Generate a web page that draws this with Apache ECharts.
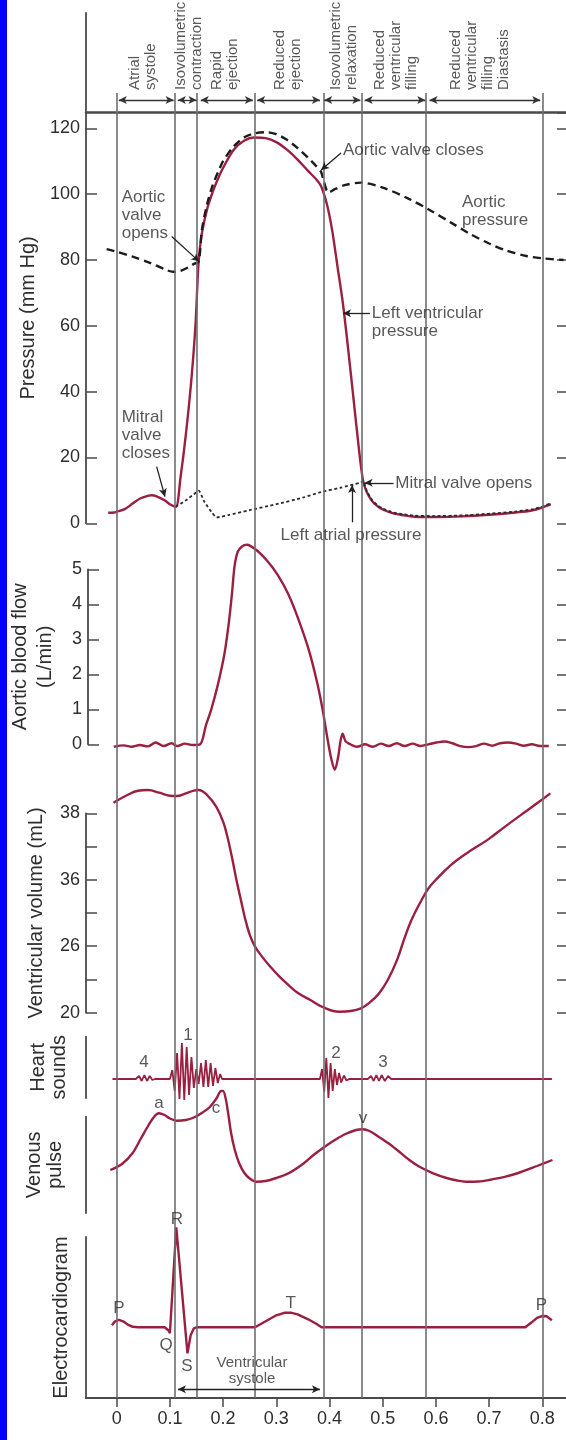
<!DOCTYPE html>
<html><head><meta charset="utf-8">
<script src="https://cdn.jsdelivr.net/npm/echarts@6/dist/echarts.min.js"></script>
<style>html,body{margin:0;padding:0;background:#fff}#c{width:566px;height:1440px}</style>
</head><body><div id="c"></div>
<script>
// ---------- DATA (time in s) ----------
const xTicks = [0, 0.1, 0.2, 0.3, 0.4, 0.5, 0.6, 0.7, 0.8];
const xTickLabels = ['0', '0.1', '0.2', '0.3', '0.4', '0.5', '0.6', '0.7', '0.8'];
const phaseBoundaries = [0, 0.111, 0.154, 0.26, 0.386, 0.462, 0.584, 0.8];
const phaseNames = ['Atrial\nsystole', 'Isovolumetric\ncontraction', 'Rapid\nejection', 'Reduced\nejection',
  'Isovolumetric\nrelaxation', 'Reduced\nventricular\nfilling', 'Reduced\nventricular\nfilling\nDiastasis'];
const phaseLabelTimes = [0.0487, 0.135, 0.203, 0.322, 0.427, 0.524, 0.683];

const volumeTickLabels = ['20', '', '26', '', '36', '', '38'];

// Left ventricular pressure (mm Hg)
const lvPressure = [[-0.016,3.2],[-0.005,3.3],[0,3.5],[0.015,4.3],[0.03,6.0],[0.045,7.6],[0.06,8.4],[0.066,8.5],[0.075,8.2],
  [0.09,7.0],[0.1,5.8],[0.111,5.0],[0.12,14],[0.13,27],[0.14,43],[0.148,60],[0.154,79.5],[0.16,88],[0.17,95.5],[0.18,100.5],
  [0.19,104.5],[0.2,108],[0.22,113.5],[0.24,116.3],[0.258,117.2],[0.28,117],[0.3,115.8],[0.32,113.5],[0.34,110.5],[0.36,107],
  [0.375,104.5],[0.384,102.5],[0.395,97],[0.405,89],[0.415,78],[0.425,67],[0.435,53],[0.445,38],[0.455,23],[0.463,13],
  [0.47,9.5],[0.48,6.8],[0.49,5.2],[0.5,4.2],[0.52,3.0],[0.54,2.4],[0.56,2.0],[0.6,1.9],[0.65,2.1],[0.7,2.6],[0.75,3.3],
  [0.78,3.9],[0.8,4.8],[0.816,5.8]];
// Aortic pressure (mm Hg)
const aorticPressure = [[-0.019,83.3],[0,82.5],[0.03,81],[0.06,79.3],[0.09,77.2],[0.106,76.4],[0.12,76.7],[0.135,77.8],
  [0.145,78.8],[0.154,79.5],[0.16,89],[0.17,97],[0.18,102.5],[0.19,106.5],[0.2,110],[0.22,114.5],[0.24,117.3],[0.26,118.5],
  [0.283,118.8],[0.3,118.2],[0.32,116.5],[0.34,114],[0.36,111],[0.375,108.5],[0.384,106.8],[0.39,103.5],[0.398,100.5],
  [0.41,101.5],[0.43,102.8],[0.459,103.5],[0.5,102],[0.55,98.5],[0.588,95.2],[0.63,91.2],[0.663,88],[0.7,85],[0.73,83],
  [0.77,81.2],[0.8,80.5],[0.84,80]];
// Left atrial pressure (mm Hg)
const atrialPressure = [[0.111,5.0],[0.13,7.0],[0.145,8.8],[0.154,9.9],[0.165,6.5],[0.178,3.5],[0.188,1.8],[0.21,2.5],
  [0.25,4.0],[0.3,5.8],[0.35,7.8],[0.384,9.5],[0.42,10.8],[0.459,12.4],[0.463,12.9],[0.47,9.8],[0.48,7.1],[0.49,5.5],
  [0.5,4.5],[0.52,3.3],[0.54,2.7],[0.56,2.3],[0.6,2.2],[0.65,2.4],[0.7,2.9],[0.75,3.6],[0.78,4.2],[0.8,5.1],[0.816,6.1]];
// Aortic blood flow (L/min)
const aorticFlow = [[-0.009,-0.07],[0.01,-0.03],[0.025,-0.07],[0.04,-0.02],[0.055,-0.06],[0.07,0.05],[0.085,-0.05],
  [0.1,0.03],[0.111,-0.05],[0.125,0.02],[0.14,-0.02],[0.154,0],[0.165,0.55],[0.175,1.0],[0.188,1.74],[0.2,2.6],
  [0.208,3.46],[0.214,4.3],[0.219,5.1],[0.225,5.5],[0.233,5.65],[0.242,5.7],[0.26,5.55],[0.28,5.25],[0.3,4.85],
  [0.32,4.3],[0.34,3.55],[0.36,2.65],[0.375,1.75],[0.385,1.0],[0.395,0.1],[0.402,-0.45],[0.408,-0.73],[0.414,-0.4],
  [0.419,0.1],[0.423,0.3],[0.428,0.1],[0.435,0.02],[0.45,-0.07],[0.465,0],[0.48,-0.07],[0.495,0.02],[0.51,-0.05],
  [0.525,0.03],[0.54,-0.05],[0.555,0.02],[0.57,-0.05],[0.585,0],[0.6,0.05],[0.615,0.08],[0.63,0.03],[0.645,-0.05],
  [0.66,-0.08],[0.675,-0.05],[0.69,0.02],[0.705,-0.04],[0.72,0.03],[0.735,0.05],[0.75,0.02],[0.765,-0.04],[0.78,0],
  [0.795,-0.05],[0.812,-0.05]];
// Ventricular volume, in axis tick steps (0 = "20", 2 = "26", 4 = "36", 6 = "38")
const ventricularVolume = [[-0.006,6.32],[0.02,6.55],[0.04,6.68],[0.059,6.7],[0.08,6.62],[0.1,6.53],[0.113,6.52],
  [0.13,6.6],[0.145,6.68],[0.154,6.7],[0.17,6.55],[0.187,6.2],[0.2,5.75],[0.208,5.3],[0.217,4.65],[0.225,4.0],
  [0.234,3.35],[0.242,2.79],[0.25,2.35],[0.26,1.99],[0.275,1.65],[0.289,1.38],[0.305,1.1],[0.323,0.83],[0.34,0.6],
  [0.364,0.38],[0.39,0.15],[0.418,0.03],[0.44,0.05],[0.459,0.13],[0.475,0.3],[0.493,0.58],[0.51,1.0],[0.527,1.59],
  [0.54,2.2],[0.554,2.79],[0.57,3.3],[0.585,3.72],[0.6,4.0],[0.628,4.44],[0.66,4.82],[0.697,5.2],[0.73,5.6],
  [0.764,6.0],[0.79,6.3],[0.815,6.6]];
// Heart sounds (relative amplitude)
const heartSounds = [[-0.008,0],[0.036,0],[0.042,0.3],[0.047,-0.2],[0.052,0.4],[0.057,-0.2],[0.062,0.3],[0.067,-0.1],[0.072,0],
  [0.1,0],[0.1045,0.9],[0.109,-1.2],[0.1135,2.6],[0.118,-2.0],[0.1225,3.6],[0.127,-2.1],[0.1315,3.2],[0.136,-1.6],
  [0.1405,2.2],[0.145,-0.9],[0.1495,1.0],[0.154,-0.5],[0.1585,1.6],[0.163,-0.8],[0.1675,1.9],[0.172,-0.8],[0.1765,1.6],
  [0.181,-0.7],[0.1855,1.1],[0.19,-0.4],[0.1945,0.5],[0.198,0],
  [0.382,0],[0.386,1.0],[0.39,-1.3],[0.394,2.1],[0.398,-1.9],[0.402,1.6],[0.406,-1.2],[0.41,1.0],[0.414,-0.6],
  [0.418,0.6],[0.422,-0.35],[0.427,0.35],[0.432,-0.15],[0.437,0],
  [0.472,0],[0.478,0.3],[0.483,-0.2],[0.488,0.4],[0.493,-0.2],[0.498,0.4],[0.504,-0.2],[0.51,0.3],[0.516,0],[0.818,0]];
// Venous pulse (relative)
const venousPulse = [[-0.012,4.3],[0.01,4.9],[0.03,6.0],[0.045,7.4],[0.06,8.8],[0.07,9.6],[0.079,9.97],[0.09,9.8],
  [0.1,9.45],[0.113,9.23],[0.13,9.3],[0.145,9.55],[0.16,10.0],[0.175,10.6],[0.188,11.5],[0.196,12.2],[0.2,12.2],
  [0.205,11.4],[0.21,9.8],[0.215,8.0],[0.222,6.3],[0.23,5.0],[0.24,4.0],[0.25,3.45],[0.262,3.13],[0.28,3.2],[0.3,3.5],
  [0.323,3.97],[0.35,4.9],[0.37,5.8],[0.391,6.63],[0.41,7.3],[0.43,7.9],[0.45,8.3],[0.463,8.37],[0.475,8.2],[0.49,7.7],
  [0.51,7.0],[0.527,6.3],[0.55,5.3],[0.57,4.6],[0.595,3.97],[0.62,3.5],[0.64,3.25],[0.656,3.13],[0.68,3.15],[0.7,3.3],
  [0.731,3.63],[0.76,4.1],[0.79,4.7],[0.819,5.3]];
// Electrocardiogram (mV)
const ecg = [[-0.009,0.02],[-0.003,0.06],[0.004,0.075],[0.012,0.06],[0.02,0.03],[0.03,0.005],[0.04,0],[0.09,0],
  [0.097,-0.03],[0.1,-0.06],[0.112,1.0],[0.133,-0.26],[0.139,-0.08],[0.145,-0.01],[0.15,0],[0.26,0],[0.28,0.06],
  [0.3,0.12],[0.315,0.145],[0.327,0.146],[0.34,0.13],[0.36,0.08],[0.375,0.035],[0.385,0],[0.768,0],[0.78,0.05],
  [0.79,0.095],[0.8,0.113],[0.808,0.11],[0.818,0.07]];

// ---------- ANNOTATION PLACEMENT ----------
const pressureNotes = [
  {text:'Aortic valve closes', t:0.4254, v:113.4, align:'left'},
  {text:'Aortic\nvalve\nopens', t:0.0094, v:93.7, align:'left'},
  {text:'Aortic\npressure', t:0.649, v:94.9, align:'left'},
  {text:'Left ventricular\npressure', t:0.4795, v:61.0, align:'left'},
  {text:'Mitral\nvalve\ncloses', t:0.0094, v:26.8, align:'left'},
  {text:'Mitral valve opens', t:0.5237, v:12.3, align:'left'},
  {text:'Left atrial pressure', t:0.4404, v:-3.55, align:'center'}
];
const pressureArrows = [
  [[0.4216,112.5],[0.3842,107.3]],
  [[0.1034,87.1],[0.1553,79.5]],
  [[0.476,63.8],[0.4254,63.8]],
  [[0.0751,17.2],[0.0907,8.1]],
  [[0.5203,12.3],[0.466,12.3]],
  [[0.4423,0.3],[0.4423,11.6]]
];
const heartNotes = [{text:'4',t:0.0513,v:1.7},{text:'1',t:0.134,v:4.4},{text:'2',t:0.412,v:2.6},{text:'3',t:0.5006,v:1.7}];
const venousNotes = [{text:'a',t:0.0795,v:11.0},{text:'c',t:0.1866,v:10.5},{text:'v',t:0.463,v:9.5}];
const ecgNotes = [{text:'P',t:0.0043,v:0.19},{text:'R',t:0.1133,v:1.08},{text:'Q',t:0.0927,v:-0.177},
  {text:'S',t:0.1321,v:-0.394},{text:'T',t:0.3269,v:0.24},{text:'P',t:0.7985,v:0.223},
  {text:'Ventricular\nsystole',t:0.2543,v:-0.44,size:15,lh:16}];

// ---------- LAYOUT ----------
const X_MIN = -0.0577, X_MAX = 0.8445;
const FONT = '"Liberation Sans", Arial, Helvetica, sans-serif';
const AX = '#4a4a4a', TXT = '#2e2e2e', RED = '#9a1f40', GRAYLINE = '#6e6e6e';
const gridBoxes = [
  {top:13, height:99.5},     // 0 header
  {top:112.5, height:410.8}, // 1 pressure
  {top:569.3, height:175},   // 2 flow
  {top:813.3, height:199.4}, // 3 volume
  {top:1036.7, height:61.3}, // 4 heart sounds
  {top:1116.7, height:96.3}, // 5 venous
  {top:1237, height:161},    // 6 ecg
  {top:93, height:1305}      // 7 phase lines overlay
];
const grid = gridBoxes.map(g => ({left:86, width:480, top:g.top, height:g.height}));

const xAxis = gridBoxes.map((g, i) => ({
  gridIndex:i, type:'value', min:X_MIN, max:X_MAX,
  show: i === 0 || i === 6,
  axisLine:{show:true, onZero:false, lineStyle:{color:AX, width: i === 0 ? 2.5 : 1.8}},
  axisTick:{show: i === 6, customValues:xTicks, length:9, lineStyle:{color:AX, width:1.5}},
  axisLabel:{show: i === 6, customValues:xTicks, formatter: v => xTickLabels[Math.round(v * 10)],
    fontSize:18, color:TXT, margin:12, fontFamily:FONT},
  splitLine:{show:false}
}));

function leftAxis(i, o) {
  return Object.assign({
    gridIndex:i, type:'value', position:'left',
    axisLine:{show:true, onZero:false, lineStyle:{color:AX, width:1.8}},
    axisTick:{show:false, inside:true, length:11, lineStyle:{color:AX, width:1.5}},
    axisLabel:{show:false, fontSize:18, color:TXT, margin:6, fontFamily:FONT},
    splitLine:{show:false},
    nameLocation:'middle', nameRotate:90,
    nameTextStyle:{fontSize:20, color:TXT, fontFamily:FONT, lineHeight:21}
  }, o);
}
function rightAxis(i, o) {
  return Object.assign({
    gridIndex:i, type:'value', position:'right',
    axisLine:{show:false, onZero:false},
    axisTick:{show:true, inside:true, length:9, lineStyle:{color:AX, width:1.5}},
    axisLabel:{show:false}, splitLine:{show:false}
  }, o);
}
const yAxis = [
  leftAxis(0, {min:0, max:99.5}),                                            // 0
  leftAxis(1, {min:0, max:124.8, interval:20, name:'Pressure (mm Hg)', nameGap:45,
    axisTick:{show:true, inside:true, length:11, lineStyle:{color:AX, width:1.5}},
    axisLabel:{show:true, fontSize:18, color:TXT, margin:6, fontFamily:FONT}}), // 1
  leftAxis(2, {min:0, max:5, interval:1, name:'Aortic blood flow\n(L/min)', nameGap:30,
    nameTextStyle:{fontSize:20, color:TXT, fontFamily:FONT, lineHeight:25},
    axisTick:{show:true, inside:true, length:11, lineStyle:{color:AX, width:1.5}},
    axisLabel:{show:true, fontSize:18, color:TXT, margin:6, fontFamily:FONT}}), // 2
  leftAxis(3, {min:0, max:6, interval:1, name:'Ventricular volume (mL)', nameGap:39,
    axisTick:{show:true, inside:true, length:11, lineStyle:{color:AX, width:1.5}},
    axisLabel:{show:true, fontSize:18, color:TXT, margin:6, fontFamily:FONT,
      formatter: v => volumeTickLabels[Math.round(v)]}}),                    // 3
  leftAxis(4, {min:-1.9, max:4.23, name:'Heart\nsounds', nameGap:16}),       // 4
  leftAxis(5, {min:0, max:9.63, name:'Venous\npulse', nameGap:20}),          // 5
  leftAxis(6, {min:-0.707, max:0.903, name:'Electrocardiogram', nameGap:14}), // 6
  {gridIndex:7, type:'value', min:0, max:1, show:false},                     // 7
  rightAxis(1, {min:0, max:124.8, interval:20}),                             // 8
  rightAxis(2, {min:0, max:5, interval:1}),                                  // 9
  rightAxis(3, {min:0, max:6, interval:1})                                   // 10
];

function curve(name, data, xi, yi, style, smooth) {
  return {name, type:'line', data, xAxisIndex:xi, yAxisIndex:yi, showSymbol:false, symbol:'none',
    clip:false, smooth: smooth || 0, lineStyle:style, z:3, silent:true};
}
function notes(list, xi, yi, size, defAlign) {
  return {type:'scatter', xAxisIndex:xi, yAxisIndex:yi, symbolSize:0, z:5, silent:true, clip:false,
    data: list.map(n => ({value:[n.t, n.v], name:n.text,
      label:{show:true, position:'inside', formatter:n.text, align:n.align || defAlign, verticalAlign:'middle',
        fontSize:n.size || size, lineHeight:n.lh || 18, color:TXT, fontFamily:FONT}}))};
}
const arrowLine = {color:'#222', width:1.3, type:'solid'};

const series = [
  // phase boundary lines across all panels
  {type:'line', xAxisIndex:7, yAxisIndex:7, data:[], z:1, silent:true,
   markLine:{symbol:'none', silent:true, animation:false, label:{show:false},
     lineStyle:{color:GRAYLINE, width:1.6, type:'solid'},
     data: phaseBoundaries.map(t => ({xAxis:t}))}},
  // header arrows
  {type:'line', xAxisIndex:0, yAxisIndex:0, data:[], z:2, silent:true,
   markLine:{symbol:['arrow','arrow'], symbolSize:[6,8], silent:true, animation:false, label:{show:false},
     lineStyle:{color:'#333', width:1.3, type:'solid'},
     data: phaseBoundaries.slice(0, -1).map((t, k) => [{coord:[t + 0.004, 12.5]}, {coord:[phaseBoundaries[k + 1] - 0.004, 12.5]}])}},
  // header phase labels
  {type:'scatter', xAxisIndex:0, yAxisIndex:0, symbolSize:0, silent:true, z:5,
   data: phaseNames.map((n, k) => ({value:[phaseLabelTimes[k], 22.5], name:n,
     label:{show:true, position:'inside', rotate:90, formatter:n, align:'left', verticalAlign:'middle',
       fontSize:15, lineHeight:16, color:TXT, fontFamily:FONT}}))},
  // pressure panel
  curve('Left ventricular pressure', lvPressure, 1, 1, {color:RED, width:2.4}, 0.3),
  curve('Aortic pressure', aorticPressure, 1, 1, {color:'#1c1c1c', width:2.4, type:[8,5]}, 0.3),
  curve('Left atrial pressure', atrialPressure, 1, 1, {color:'#2a2a2a', width:1.8, type:[3,2.5]}, 0.2),
  Object.assign(notes(pressureNotes, 1, 1, 17, 'left'), {
    markLine:{symbol:['none','arrow'], symbolSize:[6,8], silent:true, animation:false, label:{show:false},
      lineStyle:arrowLine, data: pressureArrows.map(a => [{coord:a[0]}, {coord:a[1]}])}}),
  // flow
  curve('Aortic blood flow', aorticFlow, 2, 2, {color:RED, width:2.4}, 0.3),
  // volume
  curve('Ventricular volume', ventricularVolume, 3, 3, {color:RED, width:2.4}, 0.4),
  // heart sounds
  curve('Heart sounds', heartSounds, 4, 4, {color:RED, width:1.8}, 0),
  notes(heartNotes, 4, 4, 17, 'center'),
  // venous pulse
  curve('Venous pulse', venousPulse, 5, 5, {color:RED, width:2.4}, 0.3),
  notes(venousNotes, 5, 5, 17, 'center'),
  // ECG
  curve('Electrocardiogram', ecg, 6, 6, {color:RED, width:2.4}, 0),
  Object.assign(notes(ecgNotes, 6, 6, 17, 'center'), {
    markLine:{symbol:['arrow','arrow'], symbolSize:[6,8], silent:true, animation:false, label:{show:false},
      lineStyle:arrowLine, data:[[{coord:[0.115, -0.62]}, {coord:[0.382, -0.62]}]]}})
];

const chart = echarts.init(document.getElementById('c'), null, {renderer:'canvas'});
chart.setOption({
  animation:false, backgroundColor:'#ffffff',
  textStyle:{fontFamily:FONT},
  graphic:[{type:'rect', left:0, top:0, shape:{width:7, height:1440}, style:{fill:'#0000ff'}, z:100}],
  grid, xAxis, yAxis, series
});
</script></body></html>
